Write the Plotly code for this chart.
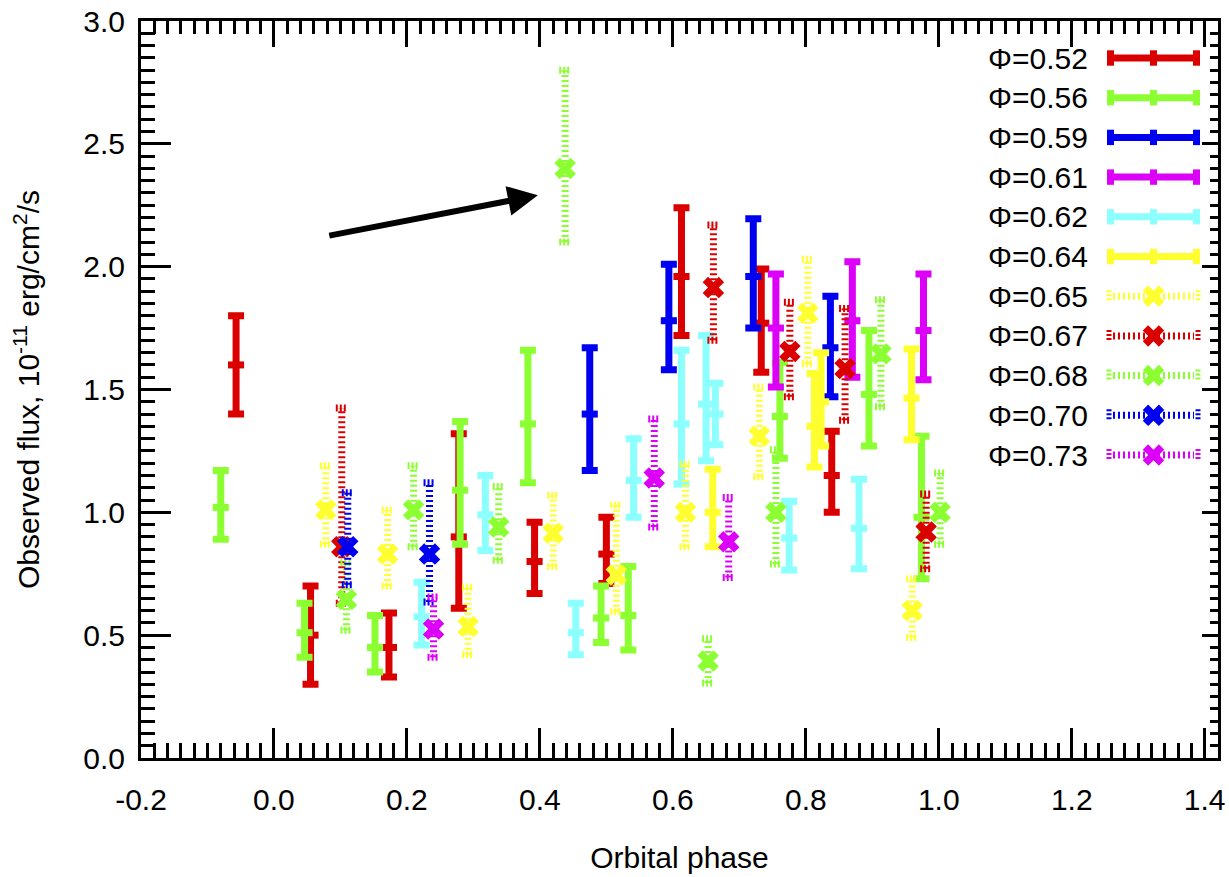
import plotly.graph_objects as go

# ---------------- data ----------------
series_names = ["Φ=0.52", "Φ=0.56", "Φ=0.59", "Φ=0.61", "Φ=0.62", "Φ=0.64",
                "Φ=0.65", "Φ=0.67", "Φ=0.68", "Φ=0.70", "Φ=0.73"]

phase_052 = [-0.057, 0.055, 0.173, 0.278, 0.392, 0.500, 0.613, 0.733, 0.839]
flux_052 = [1.60, 0.50, 0.45, 0.90, 0.80, 0.83, 1.96, 1.77, 1.15]
errp_052 = [0.20, 0.20, 0.14, 0.42, 0.16, 0.15, 0.28, 0.22, 0.18]
errm_052 = [0.20, 0.20, 0.12, 0.29, 0.13, 0.12, 0.24, 0.20, 0.15]

phase_056 = [-0.080, 0.046, 0.152, 0.280, 0.382, 0.492, 0.533, 0.761, 0.895, 0.974]
flux_056 = [1.02, 0.51, 0.45, 1.09, 1.36, 0.57, 0.58, 1.39, 1.48, 0.98]
errp_056 = [0.15, 0.12, 0.13, 0.28, 0.30, 0.13, 0.20, 0.22, 0.26, 0.33]
errm_056 = [0.13, 0.10, 0.10, 0.22, 0.24, 0.10, 0.14, 0.17, 0.21, 0.25]

phase_059 = [0.475, 0.594, 0.721, 0.837]
flux_059 = [1.40, 1.78, 1.96, 1.67]
errp_059 = [0.27, 0.23, 0.235, 0.21]
errm_059 = [0.23, 0.20, 0.21, 0.20]

phase_061 = [0.755, 0.870, 0.977]
flux_061 = [1.75, 1.78, 1.74]
errp_061 = [0.22, 0.24, 0.23]
errm_061 = [0.24, 0.23, 0.20]

phase_062 = [0.222, 0.318, 0.454, 0.541, 0.613, 0.650, 0.664, 0.775, 0.880]
flux_062 = [0.575, 0.99, 0.51, 1.13, 1.36, 1.44, 1.40, 0.895, 0.935]
errp_062 = [0.14, 0.16, 0.12, 0.17, 0.30, 0.28, 0.125, 0.15, 0.20]
errm_062 = [0.115, 0.145, 0.09, 0.15, 0.245, 0.23, 0.125, 0.13, 0.165]

phase_064 = [0.660, 0.813, 0.823, 0.959]
flux_064 = [1.00, 1.35, 1.45, 1.465]
errp_064 = [0.175, 0.215, 0.20, 0.20]
errm_064 = [0.14, 0.165, 0.18, 0.17]

phase_065 = [0.078, 0.171, 0.292, 0.420, 0.515, 0.619, 0.730, 0.803, 0.960]
flux_065 = [1.01, 0.83, 0.535, 0.915, 0.745, 1.00, 1.31, 1.81, 0.60]
errp_065 = [0.18, 0.18, 0.16, 0.155, 0.285, 0.195, 0.20, 0.22, 0.13]
errm_065 = [0.14, 0.13, 0.115, 0.135, 0.15, 0.14, 0.165, 0.205, 0.11]

phase_067 = [0.102, 0.661, 0.776, 0.859, 0.981]
flux_067 = [0.86, 1.915, 1.655, 1.585, 0.92]
errp_067 = [0.565, 0.255, 0.20, 0.245, 0.155]
errm_067 = [0.23, 0.215, 0.185, 0.21, 0.15]

phase_068 = [0.109, 0.210, 0.338, 0.438, 0.653, 0.755, 0.913, 1.002]
flux_068 = [0.645, 1.01, 0.94, 2.40, 0.395, 1.00, 1.645, 1.00]
errp_068 = [0.15, 0.18, 0.165, 0.40, 0.09, 0.255, 0.22, 0.16]
errm_068 = [0.125, 0.15, 0.135, 0.30, 0.09, 0.21, 0.215, 0.13]

phase_070 = [0.111, 0.234]
flux_070 = [0.86, 0.83]
errp_070 = [0.22, 0.29]
errm_070 = [0.155, 0.195]

phase_073 = [0.240, 0.572, 0.684]
flux_073 = [0.525, 1.14, 0.88]
errp_073 = [0.13, 0.24, 0.18]
errm_073 = [0.115, 0.20, 0.145]

x_ticks = [-0.2, 0.0, 0.2, 0.4, 0.6, 0.8, 1.0, 1.2, 1.4]
x_tick_labels = ["-0.2", "0.0", "0.2", "0.4", "0.6", "0.8", "1.0", "1.2", "1.4"]
y_ticks = [0.0, 0.5, 1.0, 1.5, 2.0, 2.5, 3.0]
y_tick_labels = ["0.0", "0.5", "1.0", "1.5", "2.0", "2.5", "3.0"]

# ---------------- styles ----------------
RED, GREEN, BLUE = "#da0000", "#8cff32", "#0000f0"
MAGENTA, CYAN, YELLOW = "#dc00f8", "#8cffff", "#ffff30"

series = [
    (series_names[0], phase_052, flux_052, errp_052, errm_052, RED, "solid"),
    (series_names[1], phase_056, flux_056, errp_056, errm_056, GREEN, "solid"),
    (series_names[2], phase_059, flux_059, errp_059, errm_059, BLUE, "solid"),
    (series_names[3], phase_061, flux_061, errp_061, errm_061, MAGENTA, "solid"),
    (series_names[4], phase_062, flux_062, errp_062, errm_062, CYAN, "solid"),
    (series_names[5], phase_064, flux_064, errp_064, errm_064, YELLOW, "solid"),
    (series_names[6], phase_065, flux_065, errp_065, errm_065, YELLOW, "dotted"),
    (series_names[7], phase_067, flux_067, errp_067, errm_067, RED, "dotted"),
    (series_names[8], phase_068, flux_068, errp_068, errm_068, GREEN, "dotted"),
    (series_names[9], phase_070, flux_070, errp_070, errm_070, BLUE, "dotted"),
    (series_names[10], phase_073, flux_073, errp_073, errm_073, MAGENTA, "dotted"),
]

X_RANGE = [-0.2, 1.42]
Y_RANGE = [0.0, 3.0]
CAP_HALF = 0.009   # half width of dotted caps in phase units (~6 px)
DOTS = "2px,3px"

fig = go.Figure()
for name, xs, ys, ep, em, col, sty in series:
    if sty == "solid":
        fig.add_trace(go.Scatter(
            x=xs, y=ys, mode="markers", name=name, showlegend=False,
            marker=dict(symbol="line-ew", size=11.5, color=col,
                        line=dict(width=7, color=col)),
            error_y=dict(type="data", symmetric=False, array=ep, arrayminus=em,
                         color=col, thickness=7, width=8),
            hoverinfo="x+y"))
    else:
        lx, ly, cx, cy = [], [], [], []
        for x, y, p, m in zip(xs, ys, ep, em):
            lx += [x, x, None]
            ly += [y - m, y + p, None]
            for yy in (y - m, y + p):
                cx += [x - CAP_HALF, x + CAP_HALF, None]
                cy += [yy, yy, None]
        fig.add_trace(go.Scatter(x=lx, y=ly, mode="lines", showlegend=False,
                                 line=dict(color=col, width=7, dash=DOTS),
                                 hoverinfo="skip"))
        fig.add_trace(go.Scatter(x=cx, y=cy, mode="lines", showlegend=False,
                                 line=dict(color=col, width=7, dash="2px,2px"),
                                 hoverinfo="skip"))
        fig.add_trace(go.Scatter(x=xs, y=ys, mode="markers", name=name,
                                 showlegend=False,
                                 marker=dict(symbol="x", size=19, color=col,
                                             line=dict(width=0))))

# empty trace so the mirrored tick axes (top/right) are drawn
fig.add_trace(go.Scatter(x=[], y=[], xaxis="x2", yaxis="y2", showlegend=False))

# ---------------- custom gnuplot-like legend (page-pixel overlay axes) -----
PLOT_L, PLOT_R, PLOT_T, PLOT_B = 141, 1218, 21, 758
LEG_Y0, LEG_DY = 58, 39.7
LEG_TXT_X, LEG_X0, LEG_X1 = 1090, 1107, 1200
LEG_XM = (LEG_X0 + LEG_X1) / 2

for i, (name, xs, ys, ep, em, col, sty) in enumerate(series):
    yy = LEG_Y0 + i * LEG_DY
    if sty == "solid":
        fig.add_trace(go.Scatter(x=[LEG_X0, LEG_X1], y=[yy, yy], mode="lines",
                                 xaxis="x3", yaxis="y3", showlegend=False,
                                 line=dict(color=col, width=7), hoverinfo="skip"))
        fig.add_trace(go.Scatter(x=[LEG_X0 + 3.5, LEG_XM, LEG_X1 - 3.5], y=[yy, yy, yy],
                                 mode="markers", xaxis="x3", yaxis="y3", showlegend=False,
                                 marker=dict(symbol="line-ns", size=11, color=col,
                                             line=dict(width=7, color=col)),
                                 hoverinfo="skip"))
    else:
        fig.add_trace(go.Scatter(x=[LEG_X0 + 6, LEG_X1 - 6], y=[yy, yy], mode="lines",
                                 xaxis="x3", yaxis="y3", showlegend=False,
                                 line=dict(color=col, width=7, dash=DOTS), hoverinfo="skip"))
        fig.add_trace(go.Scatter(x=[LEG_X0 + 2, LEG_X0 + 2, None, LEG_X1 - 2, LEG_X1 - 2],
                                 y=[yy - 6, yy + 6, None, yy - 6, yy + 6], mode="lines",
                                 xaxis="x3", yaxis="y3", showlegend=False,
                                 line=dict(color=col, width=5, dash="2px,2px"),
                                 hoverinfo="skip"))
        fig.add_trace(go.Scatter(x=[LEG_XM], y=[yy], mode="markers",
                                 xaxis="x3", yaxis="y3", showlegend=False,
                                 marker=dict(symbol="x", size=19, color=col,
                                             line=dict(width=0)),
                                 hoverinfo="skip"))
    fig.add_annotation(x=LEG_TXT_X, y=yy, xref="x3", yref="y3", text=name,
                       showarrow=False, xanchor="right", yanchor="middle",
                       font=dict(size=30, color="black"))

# arrow pointing at the flare point
fig.add_annotation(x=0.397, y=2.291, ax=0.081, ay=2.125, xref="x", yref="y",
                   axref="x", ayref="y", text="", showarrow=True,
                   arrowhead=2, arrowsize=1.0, arrowwidth=6, arrowcolor="black")

axis_common = dict(showgrid=False, zeroline=False, showline=True, linewidth=3,
                   linecolor="black", ticks="inside", tickwidth=3, tickcolor="black",
                   automargin=False)

fig.update_layout(
    width=1229, height=877,
    margin=dict(l=PLOT_L, r=1229 - PLOT_R, t=PLOT_T, b=877 - PLOT_B, autoexpand=False),
    paper_bgcolor="white", plot_bgcolor="white", showlegend=False,
    font=dict(family="Liberation Sans, Arial, Helvetica, sans-serif", size=30, color="black"),
    xaxis=dict(range=X_RANGE, tickvals=x_ticks, ticktext=x_tick_labels, ticklen=30,
               ticklabelstandoff=13, ticklabeloverflow="allow",
               minor=dict(dtick=0.02, tick0=0, ticks="inside", ticklen=15,
                          tickwidth=3, tickcolor="black", showgrid=False),
               title=dict(text="Orbital phase", standoff=32, font=dict(size=30)),
               **axis_common),
    yaxis=dict(range=Y_RANGE, tickvals=y_ticks, ticktext=y_tick_labels, ticklen=30,
               ticklabelstandoff=7, ticklabeloverflow="allow",
               minor=dict(dtick=0.05, tick0=0, ticks="inside", ticklen=14,
                          tickwidth=3, tickcolor="black", showgrid=False),
               title=dict(text="Observed flux, 10<sup>-11</sup> erg/cm<sup>2</sup>/s",
                          standoff=35, font=dict(size=30)),
               **axis_common),
    xaxis2=dict(overlaying="x", side="top", anchor="y2", range=X_RANGE,
                tickvals=x_ticks, ticklen=26, showticklabels=False,
                minor=dict(dtick=0.02, tick0=0, ticks="inside", ticklen=13,
                           tickwidth=3, tickcolor="black", showgrid=False),
                **axis_common),
    yaxis2=dict(overlaying="y", side="right", anchor="x2", range=Y_RANGE,
                tickvals=y_ticks, ticklen=16, showticklabels=False,
                minor=dict(dtick=0.05, tick0=0, ticks="inside", ticklen=8,
                           tickwidth=3, tickcolor="black", showgrid=False),
                **axis_common),
    xaxis3=dict(overlaying="x", anchor="y3", range=[PLOT_L, PLOT_R], visible=False),
    yaxis3=dict(overlaying="y", anchor="x3", range=[PLOT_B, PLOT_T], visible=False),
)

fig.write_html("out.html")
